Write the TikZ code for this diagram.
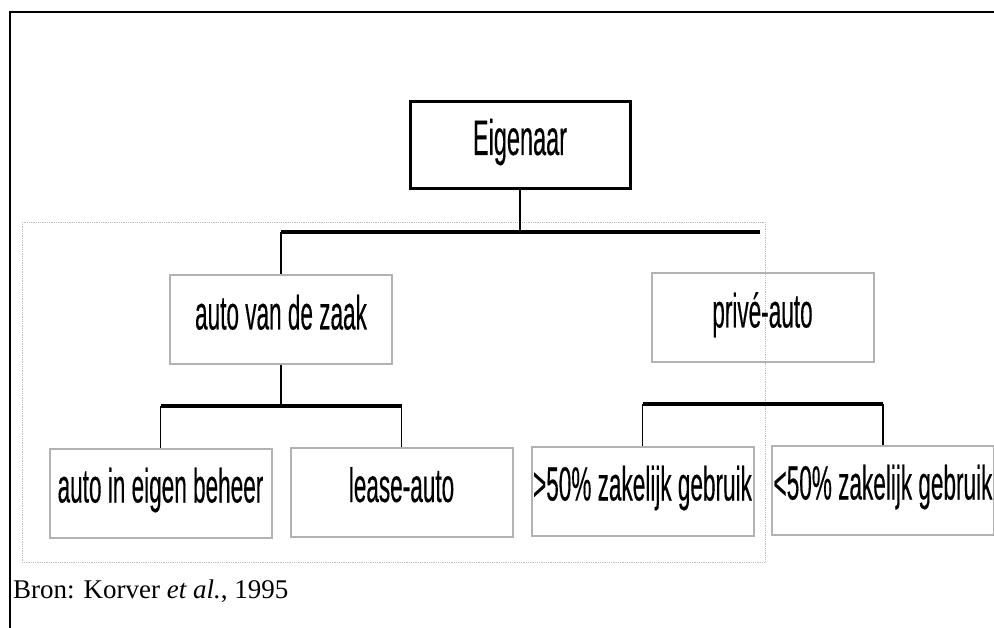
\documentclass[tikz,border=0pt]{standalone}
\usepackage{fontspec}
\setmainfont{Liberation Serif}
\newfontfamily\narrowsans[FakeStretch=0.47, FakeBold=0.25]{Liberation Sans}
\def \ownerStr {Eigenaar}
\def \companyCarStr {auto van de zaak}
\def \privateCarStr {privé-auto}
\def \selfManagedStr {auto in eigen beheer}
\def \leaseCarStr {lease-auto}
\def \moreBusinessStr {>50\% zakelijk gebruik}
\def \lessBusinessStr {<50\% zakelijk gebruik}
\def \sourceStr {Bron: Korver \textit{et al.}, 1995}

\begin{document}
\begin{tikzpicture}[x=1pt, y=-1pt,
  boxtext/.style={font=\narrowsans\fontsize{48}{52}\selectfont, text height=35pt, text depth=16pt, inner sep=0pt},
  ownerbox/.style={boxtext, draw=black, line width=3pt, minimum width=220pt, minimum height=87pt},
  carbox/.style={boxtext, draw=gray!60, line width=2pt, minimum width=222pt, minimum height=89pt},
  bus/.style={line width=3.5pt},
  link/.style={line width=1.8pt}]

\useasboundingbox (0,0) rectangle (994,628);

% frame and scan edge
\draw[line width=2.5pt] (10,628) -- (10,12) -- (994,12);
\draw[gray!50, line width=0.8pt, densely dotted] (22,222) rectangle (765,562);

\node[ownerbox, font=\narrowsans\fontsize{50}{54}\selectfont] (eigenaar) at (520,145.5) {\ownerStr};

\node[carbox] (zaak) at (281,320) {\companyCarStr};
\node[carbox] (prive) at (762.5,318) {\privateCarStr};

\node[carbox] (beheer) at (160.5,493) {\selfManagedStr};
\node[carbox] (lease) at (401.5,492.5) {\leaseCarStr};
\node[carbox] (meer) at (642.5,491) {\moreBusinessStr};
\node[carbox] (minder) at (883,490) {\lessBusinessStr};

\node[anchor=base west, inner sep=0pt, font=\fontsize{27}{31}\selectfont] (bron) at (13,598) {\sourceStr};

\coordinate (busA) at (281,232);
\coordinate (busAend) at (760,232);
\coordinate (busB) at (162,406);
\coordinate (busC) at (642,404);

% connectors
\draw[link] (eigenaar.south) -- (eigenaar.south |- busA);
\draw[bus] (busA) -- (busAend);
\draw[link] (busA) -- (zaak.north);

\draw[link] (zaak.south) -- (zaak.south |- busB);
\draw[link] (beheer.north) -- (beheer.north |- busB);
\draw[link] (lease.north) -- (lease.north |- busB);
\draw[bus] (beheer.north |- busB) -- (lease.north |- busB);

\draw[link] (meer.north) -- (meer.north |- busC);
\draw[link] (minder.north) -- (minder.north |- busC);
\draw[bus] (meer.north |- busC) -- (minder.north |- busC);

\end{tikzpicture}
\end{document}
